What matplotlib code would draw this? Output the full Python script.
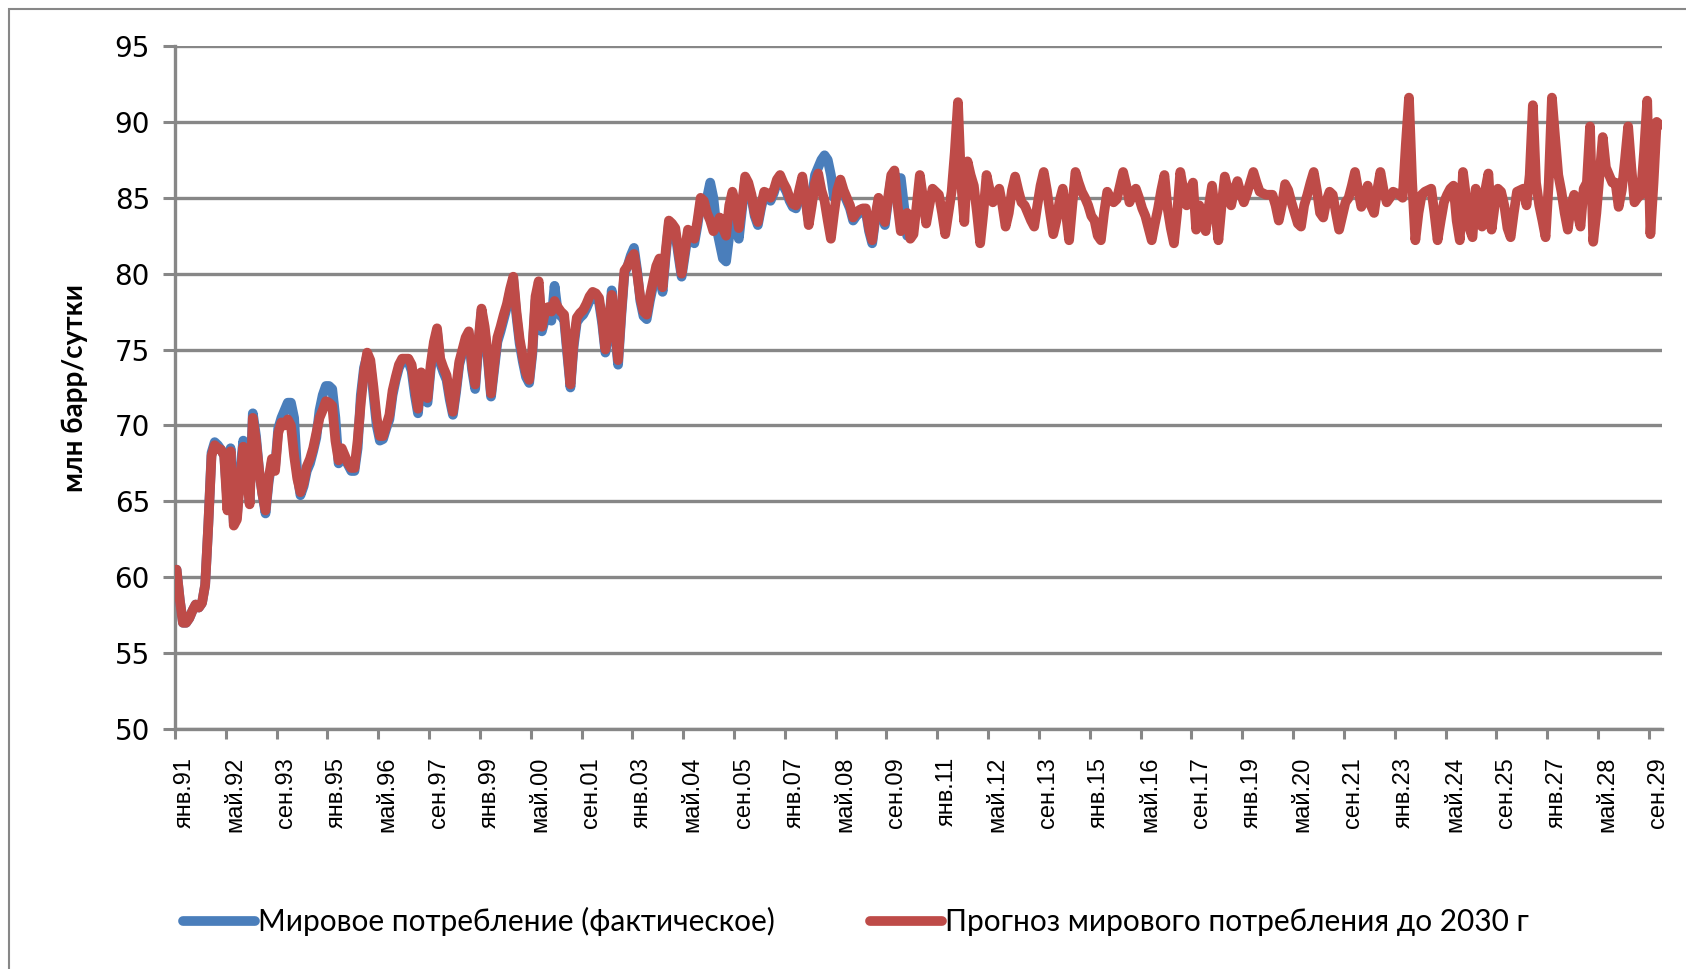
import numpy as np
import matplotlib
matplotlib.use('Agg')
import matplotlib.pyplot as plt
from matplotlib.patches import Rectangle

# tick labels every 16 months, Jan 1991 .. Sep 2029
tick_labels = ['янв.91', 'май.92', 'сен.93', 'янв.95', 'май.96', 'сен.97', 'янв.99', 'май.00',
               'сен.01', 'янв.03', 'май.04', 'сен.05', 'янв.07', 'май.08', 'сен.09', 'янв.11',
               'май.12', 'сен.13', 'янв.15', 'май.16', 'сен.17', 'янв.19', 'май.20', 'сен.21',
               'янв.23', 'май.24', 'сен.25', 'янв.27', 'май.28', 'сен.29']

# monthly forecast, Jan 1991 .. Dec 2029 (one row per year)
forecast = [
    60.5, 58.5, 57.0, 57.0, 57.3, 57.8, 58.2, 58.0, 58.3, 59.5, 63.5, 68.0,  # 1991
    68.7, 68.5, 68.4, 68.0, 64.4, 68.3, 63.4, 63.8, 66.5, 68.6, 67.0, 64.8,  # 1992
    70.5, 69.0, 67.0, 65.5, 64.4, 66.5, 67.8, 67.0, 69.5, 70.2, 70.0, 70.4,  # 1993
    70.0, 68.0, 66.5, 65.6, 66.2, 67.3, 67.8, 68.5, 69.5, 70.5, 71.0, 71.6,  # 1994
    71.5, 71.3, 69.0, 67.7, 68.5, 68.0, 67.5, 67.2, 67.2, 69.0, 71.5, 73.5,  # 1995
    74.8, 74.3, 72.5, 70.5, 69.3, 69.3, 70.0, 70.7, 72.3, 73.2, 74.0, 74.4,  # 1996
    74.4, 74.4, 74.0, 72.5, 71.1, 73.5, 72.5, 71.8, 74.0, 75.5, 76.4, 74.4,  # 1997
    73.8, 73.3, 72.0, 70.9, 72.5, 74.2, 75.0, 75.8, 76.2, 74.0, 72.7, 75.5,  # 1998
    77.7, 76.5, 74.6, 72.1, 74.0, 75.8, 76.5, 77.3, 78.0, 79.0, 79.8, 77.5,  # 1999
    75.7, 74.5, 73.5, 73.0, 75.0, 78.5, 79.5, 76.5, 77.5, 77.8, 77.5, 78.2,  # 2000
    77.8, 77.5, 77.3, 75.0, 72.7, 75.5, 77.1, 77.4, 77.6, 78.0, 78.5, 78.8,  # 2001
    78.7, 78.4, 77.0, 75.0, 76.5, 78.6, 76.5, 74.3, 77.5, 80.2, 80.5, 81.0,  # 2002
    81.3, 80.0, 78.4, 77.5, 77.3, 78.5, 79.5, 80.5, 81.0, 79.1, 81.5, 83.5,  # 2003
    83.3, 83.0, 81.5, 80.0, 81.5, 82.9, 82.6, 82.3, 83.5, 85.0, 84.8, 84.0,  # 2004
    83.5, 82.8, 83.2, 83.7, 83.0, 82.5, 84.5, 85.4, 84.5, 83.0, 84.5, 86.4,  # 2005
    86.0, 85.2, 84.0, 83.4, 84.5, 85.4, 85.3, 85.0, 85.5, 86.2, 86.5, 86.0,  # 2006
    85.6, 85.0, 84.6, 84.5, 85.5, 86.4, 85.0, 83.2, 84.5, 86.0, 86.6, 85.5,  # 2007
    84.8, 83.5, 82.3, 84.0, 85.5, 86.2, 85.5, 85.0, 84.5, 83.7, 84.0, 84.2,  # 2008
    84.3, 84.3, 83.0, 82.2, 83.8, 85.0, 84.2, 83.4, 85.0, 86.5, 86.8, 84.5,  # 2009
    82.8, 83.5, 84.0, 82.3, 82.6, 84.5, 86.5, 85.0, 83.3, 84.5, 85.6, 85.4,  # 2010
    85.2, 84.0, 82.6, 84.0, 85.4, 88.0, 91.3, 86.0, 83.4, 87.4, 86.5, 85.8,  # 2011
    84.0, 82.0, 84.0, 86.5, 85.5, 84.7, 85.2, 85.6, 84.5, 83.1, 84.0, 85.5,  # 2012
    86.4, 85.5, 84.7, 84.5, 84.0, 83.5, 83.1, 84.5, 85.8, 86.7, 85.5, 84.0,  # 2013
    82.6, 83.5, 84.8, 85.6, 84.0, 82.2, 84.5, 86.7, 86.0, 85.4, 85.0, 84.5,  # 2014
    83.8, 83.5, 82.5, 82.2, 84.0, 85.4, 85.0, 84.7, 84.9, 85.8, 86.7, 85.8,  # 2015
    84.7, 85.2, 85.6, 85.0, 84.3, 83.8, 83.0, 82.2, 83.3, 84.3, 85.5, 86.5,  # 2016
    84.3, 83.0, 82.0, 84.0, 86.7, 85.5, 84.5, 85.5, 86.0, 82.9, 84.5, 83.5,  # 2017
    82.8, 84.5, 85.8, 84.0, 82.2, 84.5, 86.4, 85.5, 84.5, 85.5, 86.1, 85.3,  # 2018
    84.7, 85.3, 86.0, 86.7, 86.0, 85.4, 85.3, 85.2, 85.2, 85.2, 84.5, 83.5,  # 2019
    84.5, 85.9, 85.5, 84.7, 84.0, 83.3, 83.1, 84.5, 85.2, 86.0, 86.7, 85.5,  # 2020
    84.0, 83.7, 84.8, 85.4, 85.2, 84.0, 82.9, 83.8, 84.7, 85.0, 85.8, 86.7,  # 2021
    85.5, 84.4, 85.0, 85.8, 84.5, 84.0, 85.5, 86.7, 85.5, 84.7, 85.0, 85.4,  # 2022
    85.3, 85.2, 85.0, 88.5, 91.6, 86.0, 82.2, 84.0, 85.2, 85.4, 85.5, 85.6,  # 2023
    84.0, 82.2, 83.5, 84.7, 85.2, 85.6, 85.8, 83.5, 82.2, 86.7, 85.0, 83.0,  # 2024
    82.4, 85.6, 84.5, 83.1, 85.5, 86.6, 82.9, 84.5, 85.6, 85.4, 84.5, 83.0,  # 2025
    82.4, 84.0, 85.4, 85.5, 85.6, 84.5, 86.5, 91.1, 86.0, 84.5, 83.5, 82.4,  # 2026
    86.0, 91.6, 89.0, 86.5, 85.4, 84.0, 82.9, 84.5, 85.2, 84.0, 83.1, 85.6,  # 2027
    86.0, 89.7, 82.1, 84.0, 86.5, 89.0, 87.0, 86.5, 86.0, 86.0, 84.4, 85.5,  # 2028
    87.5, 89.7, 87.0, 84.7, 85.0, 85.2, 88.0, 91.4, 82.6, 86.0, 90.0, 89.8,  # 2029
]

# monthly actual consumption, Jan 1991 .. Mar 2010
actual = [
    60.5, 58.5, 57.0, 57.0, 57.3, 57.8, 58.2, 58.0, 58.3, 59.5, 63.5, 68.2,  # 1991
    68.9, 68.7, 68.4, 68.0, 65.0, 68.5, 63.6, 64.0, 67.0, 69.0, 67.2, 65.0,  # 1992
    70.8, 69.3, 67.0, 65.5, 64.2, 66.3, 67.6, 67.2, 69.8, 70.5, 71.0, 71.5,  # 1993
    71.5, 70.5, 66.8, 65.4, 66.0, 67.0, 67.5, 68.3, 69.2, 71.0, 72.0, 72.6,  # 1994
    72.6, 72.4, 70.5, 67.5, 68.3, 67.8, 67.4, 67.0, 67.0, 68.5, 72.0, 73.8,  # 1995
    74.6, 74.0, 72.0, 70.0, 69.0, 69.1, 69.8, 70.4, 72.0, 73.0, 73.8, 74.2,  # 1996
    74.2, 74.2, 73.6, 72.0, 70.8, 73.2, 72.2, 71.5, 73.7, 75.2, 76.2, 74.1,  # 1997
    73.5, 73.0, 71.7, 70.7, 72.2, 74.0, 74.8, 75.6, 76.0, 73.7, 72.4, 75.2,  # 1998
    77.5, 76.2, 74.3, 71.9, 73.7, 75.5, 76.2, 77.0, 77.8, 78.8, 79.6, 77.2,  # 1999
    75.4, 74.2, 73.2, 72.8, 74.7, 78.2, 79.2, 76.2, 77.0, 77.0, 76.9, 79.2,  # 2000
    77.5, 77.2, 77.0, 74.7, 72.5, 75.2, 76.8, 77.1, 77.3, 77.7, 78.2, 78.5,  # 2001
    78.4, 78.1, 76.7, 74.8, 76.2, 78.9, 76.2, 74.0, 77.2, 80.0, 80.5, 81.2,  # 2002
    81.7, 80.2, 78.2, 77.2, 77.0, 78.2, 79.2, 80.2, 80.7, 78.8, 81.2, 83.3,  # 2003
    83.1, 82.7, 81.2, 79.8, 81.2, 82.6, 82.3, 82.0, 83.2, 84.7, 84.6, 85.0,  # 2004
    86.0, 85.0, 83.0, 82.0, 81.0, 80.8, 82.5, 85.0, 83.5, 82.3, 84.2, 86.2,  # 2005
    85.8, 85.0, 83.8, 83.2, 84.3, 85.2, 85.1, 84.8, 85.3, 86.0, 86.3, 85.8,  # 2006
    85.4, 84.8, 84.4, 84.3, 85.3, 86.2, 84.8, 83.5, 85.0, 86.5, 87.0, 87.5,  # 2007
    87.8, 87.5, 86.5, 85.0, 85.3, 86.0, 85.3, 84.8, 84.3, 83.5, 83.8, 84.0,  # 2008
    84.1, 84.1, 82.8, 82.0, 83.6, 84.8, 84.0, 83.2, 84.8, 86.3, 86.6, 86.0,  # 2009
    86.3, 84.5, 82.5,                                                        # 2010
]

W, H = 1686, 969
grid_color = '#878787'
blue = '#4a7ebb'
red = '#be4b48'

fig = plt.figure(figsize=(W / 100, H / 100), dpi=100)
ax = fig.add_axes([175 / W, 1 - 729 / H, (1661.5 - 175) / W, (729 - 46) / H])

ax.plot(np.arange(len(actual)), actual, color=blue, lw=7, solid_capstyle='round',
        solid_joinstyle='round', label='Мировое потребление (фактическое)', zorder=3)
ax.plot(np.arange(len(forecast)), forecast, color=red, lw=7, solid_capstyle='round',
        solid_joinstyle='round', label='Прогноз мирового потребления до 2030 г', zorder=4)

ax.set_xlim(-0.5, len(forecast) - 0.5)
ax.set_ylim(50, 95)
ax.set_yticks(range(50, 96, 5))
ax.yaxis.grid(True, color=grid_color, lw=2.4)
ax.set_axisbelow(True)
for s in ['top', 'right']:
    ax.spines[s].set_visible(False)
for s in ['left', 'bottom']:
    ax.spines[s].set_color(grid_color)
    ax.spines[s].set_linewidth(2.4)
    ax.spines[s].set_zorder(2)

ax.tick_params(axis='y', length=9, width=2.2, color=grid_color, pad=9, labelsize=20)

pos = np.arange(0, len(forecast), 16)
ax.set_xticks(pos - 0.5)
ax.set_xticklabels([])
ax.set_xticks(pos + 2.5, minor=True)
ax.set_xticklabels(tick_labels, minor=True, rotation=90, fontsize=17, family='Liberation Sans')
ax.tick_params(axis='x', which='major', length=7, width=2.2, color=grid_color)
ax.tick_params(axis='x', which='minor', length=0, pad=20)

ax.set_ylabel('млн барр/сутки', fontsize=20, fontweight='bold', family=['Lato', 'DejaVu Sans'],
              labelpad=19)

fig.legend(loc='center left', bbox_to_anchor=(183 / W, 0.049), ncol=2, frameon=False,
           handlelength=2.4, handletextpad=0.1, columnspacing=3.2, borderpad=0, borderaxespad=0,
           prop={'family': ['Lato', 'DejaVu Sans'], 'size': 21.5})

# chart-area border (only top and left edges are visible)
fig.add_artist(Rectangle((9 / W, -0.1), 1.2, 1.1 - 9 / H, fill=False, ec=grid_color, lw=1.5,
                         transform=fig.transFigure))

fig.savefig('out.png', dpi=100)
